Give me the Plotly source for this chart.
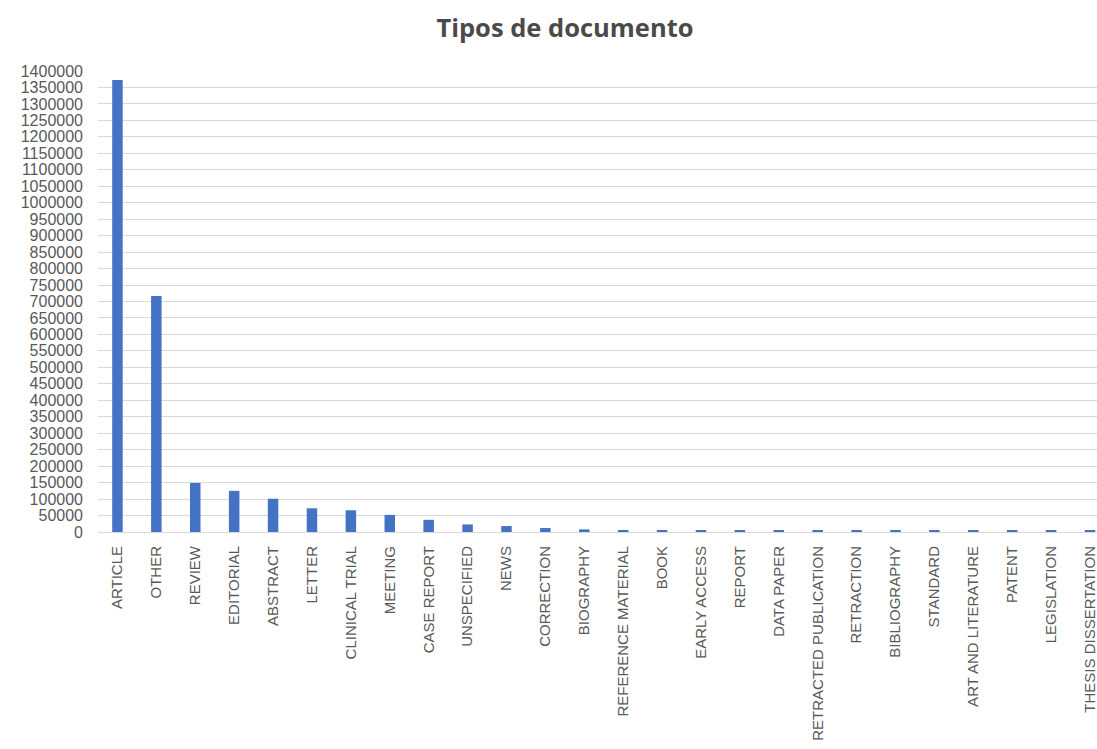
import plotly.graph_objects as go

categories = ["ARTICLE", "OTHER", "REVIEW", "EDITORIAL", "ABSTRACT", "LETTER",
              "CLINICAL TRIAL", "MEETING", "CASE REPORT", "UNSPECIFIED", "NEWS",
              "CORRECTION", "BIOGRAPHY", "REFERENCE MATERIAL", "BOOK", "EARLY ACCESS",
              "REPORT", "DATA PAPER", "RETRACTED PUBLICATION", "RETRACTION",
              "BIBLIOGRAPHY", "STANDARD", "ART AND LITERATURE", "PATENT",
              "LEGISLATION", "THESIS DISSERTATION"]
values = [1373000, 717000, 149000, 125000, 101000, 72000, 66000, 52000, 37000,
          23000, 18000, 12000, 8000, 6000, 5800, 5600, 5500, 5400, 5300, 5200,
          5100, 5000, 5000, 4900, 4800, 4700]
y_ticks = list(range(0, 1400001, 50000))

fig = go.Figure(go.Bar(x=categories, y=values, marker_color="#4472C4",
                       marker_line_width=0))

n = len(categories)
fig.update_layout(
    width=1097, height=749,
    margin=dict(l=98, r=0, t=71, b=217),
    plot_bgcolor="white", paper_bgcolor="white",
    bargap=0.73,
    showlegend=False,
    title=dict(text="<b>Tipos de documento</b>", x=565/1097, xref="container",
               xanchor="center", y=1-28/749, yref="container", yanchor="middle",
               font=dict(family="Open Sans", size=25.5, color="#4a4a4a")),
    font=dict(family="Liberation Sans", color="#595959"),
)
fig.update_yaxes(range=[0, 1400000], tickvals=y_ticks,
                 ticktext=[str(v) for v in y_ticks],
                 showgrid=True, gridcolor="#D9D9D9", gridwidth=1,
                 zeroline=True, zerolinecolor="#D9D9D9", zerolinewidth=1,
                 tickfont=dict(size=16, color="#595959"),
                 ticklabelstandoff=14, showline=False)
fig.update_xaxes(range=[-0.5, n - 1 + 0.18], tickangle=-90,
                 tickfont=dict(size=15, color="#595959"),
                 showgrid=False, showline=False, ticklabelstandoff=10)

fig.write_html("out.html")
